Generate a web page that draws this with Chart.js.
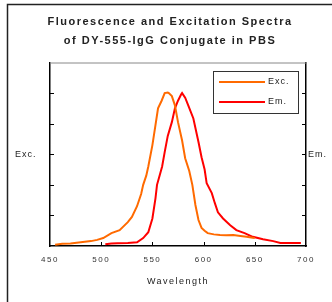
<!DOCTYPE html>
<html><head><meta charset="utf-8">
<script src="https://cdn.jsdelivr.net/npm/chart.js@4/dist/chart.umd.min.js"></script>
<style>html,body{margin:0;padding:0;background:#fff}#wrap{width:332px;height:302px;position:relative}</style>
</head><body><div id="wrap"><canvas id="c" width="332" height="302"></canvas></div>
<script>
const titleLines = ["Fluorescence and Excitation Spectra", "of DY-555-IgG Conjugate in PBS"];
const xTitle = "Wavelength";
const leftLabel = "Exc.";
const rightLabel = "Em.";
const xTicks = [450, 500, 550, 600, 650, 700];
const excWavelength = [455, 462, 470, 480, 490, 496, 502, 510, 518, 526, 530, 535, 539, 541, 544, 546, 550, 553, 555.5, 559, 562, 565, 566, 569, 572, 575, 579, 582, 586, 589, 592, 595, 598, 601, 604, 610, 616, 622, 629, 636, 642, 648, 650];
const excValues    = [0.04, 0.07, 0.08, 0.12, 0.16, 0.2, 0.26, 0.42, 0.52, 0.78, 0.95, 1.3, 1.7, 2.0, 2.3, 2.6, 3.3, 3.95, 4.5, 4.75, 5.0, 5.02, 5.0, 4.9, 4.6, 4.05, 3.45, 2.87, 2.45, 2.0, 1.34, 0.85, 0.59, 0.5, 0.42, 0.38, 0.36, 0.35, 0.36, 0.33, 0.3, 0.27, 0.26];
const emWavelength = [504, 510, 516, 526, 535, 541, 546, 550, 553, 554.5, 557, 559.5, 562, 565, 569, 572, 575, 578, 579, 582, 585, 590, 595, 598, 601, 603, 608, 611, 614, 619, 626, 632, 640, 648, 658, 668, 675, 685, 695];
const emValues     = [0.06, 0.08, 0.09, 0.1, 0.12, 0.26, 0.45, 0.9, 1.56, 2.0, 2.3, 2.6, 3.07, 3.6, 4.05, 4.5, 4.75, 4.95, 5.0, 4.85, 4.6, 4.17, 3.4, 2.9, 2.5, 2.05, 1.73, 1.4, 1.1, 0.9, 0.68, 0.52, 0.42, 0.3, 0.22, 0.16, 0.1, 0.1, 0.1];
const yTickValues = [1, 2, 3, 4, 5];

const FONT = "'Liberation Sans', Arial, sans-serif";

const decor = {
  id: 'decor',
  beforeDraw(chart) {
    chart.ctx.letterSpacing = '1.5px';
  },
  afterDraw(chart) {
    const ctx = chart.ctx;
    const a = chart.chartArea;
    const xs = chart.scales.x, ys = chart.scales.y, y1 = chart.scales.y1;
    ctx.save();
    ctx.strokeStyle = '#222';
    ctx.lineWidth = 1.5;
    ctx.beginPath();
    ctx.moveTo(7.5, 302); ctx.lineTo(7.5, 4.5); ctx.lineTo(332, 4.5);
    ctx.stroke();
    ctx.strokeStyle = '#888';
    ctx.lineWidth = 1;
    ctx.beginPath();
    ctx.moveTo(a.left, a.top + 0.5); ctx.lineTo(a.right, a.top + 0.5);
    ctx.stroke();
    ctx.strokeStyle = '#000';
    ctx.lineWidth = 1;
    ctx.beginPath();
    yTickValues.forEach(v => {
      const py = Math.round(ys.getPixelForValue(v)) + 0.5;
      ctx.moveTo(a.left, py); ctx.lineTo(a.left + 4, py);
      const py2 = Math.round(y1.getPixelForValue(v)) + 0.5;
      ctx.moveTo(a.right, py2); ctx.lineTo(a.right - 4, py2);
    });
    xTicks.slice(1, -1).forEach(v => {
      const px = Math.round(xs.getPixelForValue(v)) + 0.5;
      ctx.moveTo(px, a.bottom); ctx.lineTo(px, a.bottom - 4);
    });
    ctx.stroke();
    ctx.letterSpacing = '1px';
    ctx.fillStyle = '#222';
    ctx.font = '9px ' + FONT;
    ctx.textBaseline = 'middle';
    ctx.textAlign = 'left';
    const midY = (a.top + a.bottom) / 2;
    ctx.fillText(leftLabel, 15, midY);
    ctx.fillText(rightLabel, 308, midY);
    const bx = 213.5, by = 71.5, bw = 85, bh = 42;
    ctx.fillStyle = '#fff';
    ctx.fillRect(bx, by, bw, bh);
    ctx.strokeStyle = '#333';
    ctx.lineWidth = 1;
    ctx.strokeRect(bx, by, bw, bh);
    chart.data.datasets.forEach((ds, i) => {
      const ly = 82 + i * 20;
      ctx.strokeStyle = ds.borderColor;
      ctx.lineWidth = 2;
      ctx.beginPath();
      ctx.moveTo(219, ly); ctx.lineTo(265, ly);
      ctx.stroke();
      ctx.fillStyle = '#222';
      ctx.fillText(ds.label, 268, ly);
    });
    ctx.restore();
  }
};

new Chart(document.getElementById('c'), {
  type: 'line',
  data: {
    datasets: [
      { label: 'Exc.', data: excWavelength.map((w, i) => ({x: w, y: excValues[i]})), borderColor: '#FF6A00', borderWidth: 2, pointRadius: 0, tension: 0, yAxisID: 'y' },
      { label: 'Em.', data: emWavelength.map((w, i) => ({x: w, y: emValues[i]})), borderColor: '#FF0000', borderWidth: 2, pointRadius: 0, tension: 0, yAxisID: 'y1' }
    ]
  },
  options: {
    responsive: false,
    animation: false,
    devicePixelRatio: 1,
    layout: { padding: { left: 8, right: 0, top: 0, bottom: 0 } },
    plugins: {
      legend: { display: false },
      tooltip: { enabled: false },
      title: {
        display: true,
        text: titleLines,
        color: '#222',
        font: { family: FONT, size: 11, weight: 'bold', lineHeight: 1.75 },
        padding: { top: 12, bottom: 12 }
      }
    },
    scales: {
      x: {
        type: 'linear', min: 450, max: 700,
        afterBuildTicks: s => { s.ticks = xTicks.map(v => ({value: v})); },
        afterFit: s => { s.height = 56; },
        grid: { display: false, drawTicks: false },
        border: { display: true, color: '#000', width: 1.5 },
        ticks: { color: '#333', font: { family: FONT, size: 8 }, padding: 9, maxRotation: 0 },
        title: { display: true, text: xTitle, color: '#222', font: { family: FONT, size: 9 }, padding: { top: 0, bottom: 14.6 } }
      },
      y: {
        position: 'left', min: 0, max: 6,
        afterFit: s => { s.width = 42; },
        grid: { display: false, drawTicks: false },
        border: { display: true, color: '#000', width: 1.5 },
        ticks: { display: false, stepSize: 1 }
      },
      y1: {
        position: 'right', min: 0, max: 6,
        afterFit: s => { s.width = 26; },
        grid: { display: false, drawTicks: false },
        border: { display: true, color: '#000', width: 1.5 },
        ticks: { display: false, stepSize: 1 }
      }
    }
  },
  plugins: [decor]
});
</script></body></html>
